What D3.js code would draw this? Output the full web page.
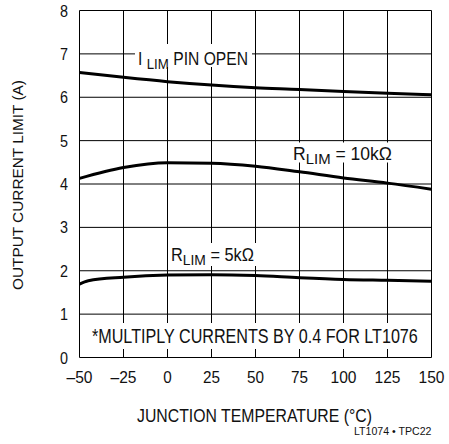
<!DOCTYPE html>
<html lang="en">
<head>
    <meta charset="UTF-8">
    <title>Output Current Limit vs Junction Temperature</title>
    <script src="https://d3js.org/d3.v7.min.js"></script>
    <style>
        body { margin: 0; background: #fff; }
        text {
            font-family: "Liberation Sans", Arial, sans-serif;
            fill: #111;
        }
    </style>
</head>
<body>
    <svg width="449" height="444"></svg>

    <script>
        // temperature (°C) on x, current limit (A) on y
        const temps = [-50, -25, 0, 25, 50, 75, 100, 125, 150];
        const pinOpen = [6.57, 6.46, 6.36, 6.28, 6.22, 6.18, 6.13, 6.09, 6.06];
        const r10k = [4.13, 4.38, 4.49, 4.48, 4.41, 4.28, 4.14, 4.02, 3.88];
        const r5kTemps = [-50, -45, -25, 0, 25, 50, 75, 100, 125, 150];
        const r5k = [1.69, 1.77, 1.85, 1.90, 1.91, 1.89, 1.84, 1.80, 1.78, 1.76];

        const xTicks = [-50, -25, 0, 25, 50, 75, 100, 125, 150];
        const yTicks = [0, 1, 2, 3, 4, 5, 6, 7, 8];

        const svg = d3.select("svg");
        const x = d3.scaleLinear().domain([-50, 150]).range([79.5, 431.5]);
        const y = d3.scaleLinear().domain([0, 8]).range([357.5, 10.5]);

        // grid as one combined path
        const gp = d3.path();
        yTicks.forEach(d => { gp.moveTo(x(-50), y(d)); gp.lineTo(x(150), y(d)); });
        xTicks.forEach(d => { gp.moveTo(x(d), y(0)); gp.lineTo(x(d), y(8)); });
        svg.append("path").attr("d", gp.toString())
            .attr("fill", "none").attr("stroke", "black").attr("stroke-width", 1);

        // curves
        const line = d3.line().x(d => x(d[0])).y(d => y(d[1])).curve(d3.curveMonotoneX);
        [d3.zip(temps, pinOpen), d3.zip(temps, r10k), d3.zip(r5kTemps, r5k)].forEach(pts => {
            svg.append("path")
                .attr("fill", "none").attr("stroke", "#000").attr("stroke-width", 3)
                .attr("d", line(pts));
        });

        // white boxes behind the labels break the grid
        function whiteBox(x0, y0, w, h) {
            svg.append("rect").attr("x", x0).attr("y", y0).attr("width", w).attr("height", h).attr("fill", "#fff");
        }
        whiteBox(135, 44, 117, 23);
        whiteBox(290, 142.5, 105, 20);
        whiteBox(169, 243, 88, 23);
        whiteBox(81, 323, 350, 26);

        // squeeze text horizontally to the narrow look of the original
        function fit(t, width, anchor) {
            const w = t.node().getBBox().width;
            const s = width / w;
            const g = d3.select(t.node().parentNode);
            const tr = g.attr("data-pos").split(",").map(Number);
            const off = anchor === "middle" ? -width / 2 : anchor === "end" ? -width : 0;
            g.attr("transform", `translate(${tr[0] + off},${tr[1]}) scale(${s},1)`);
        }
        function label(px, py, size, width, anchor, parts) {
            const g = svg.append("g").attr("data-pos", px + "," + py);
            const t = g.append("text").attr("font-size", size);
            parts(t);
            fit(t, width, anchor || "start");
            return g;
        }
        function withSub(main, sub, rest, size) {
            return t => {
                t.append("tspan").text(main);
                t.append("tspan").attr("font-size", size * 0.85).attr("dy", 4).text(sub);
                t.append("tspan").attr("dy", -4).text(rest);
            };
        }
        label(138, 65, 18, 110, "start", withSub("I ", "LIM", " PIN OPEN", 18));
        label(293, 160, 18, 99, "start", withSub("R", "LIM", " = 10kΩ", 18));
        label(171, 261, 18, 83, "start", withSub("R", "LIM", " = 5kΩ", 18));
        label(92, 343, 19.5, 326, "start", t => t.text("*MULTIPLY CURRENTS BY 0.4 FOR LT1076"));

        // tick labels
        yTicks.forEach(d => {
            label(68, y(d) + 6, 17, 8, "end", t => t.text(d));
        });
        xTicks.forEach(d => {
            const s = d < 0 ? "\u2013" + Math.abs(d) : String(d);
            const w = s.length === 1 ? 8.5 : s.length === 2 ? 17 : 26;
            label(x(d), 383, 16.5, w, "middle", t => t.text(s));
        });

        // axis titles
        label(254.5, 421.5, 18, 235, "middle", t => t.text("JUNCTION TEMPERATURE (°C)"));
        const yt = svg.append("g").attr("transform", "translate(23,185) rotate(-90)");
        const ytt = yt.append("text").attr("font-size", 15).text("OUTPUT CURRENT LIMIT (A)");
        const yw = ytt.node().getBBox().width;
        ytt.attr("transform", `scale(${210 / yw},1)`).attr("x", -yw / 2);

        label(432, 435, 10, 78, "end", t => t.text("LT1074 • TPC22"));
    </script>
</body>
</html>
